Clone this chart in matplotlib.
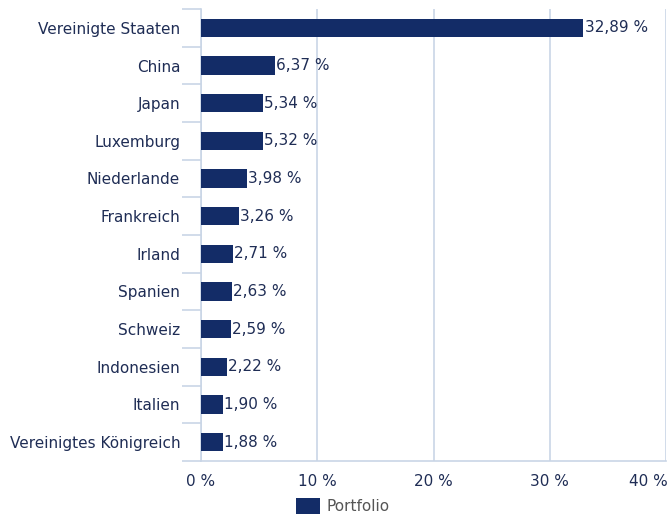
import matplotlib
matplotlib.use("Agg")
import matplotlib.pyplot as plt
import matplotlib.transforms as mtransforms
import numpy as np

countries = ["Vereinigte Staaten", "China", "Japan", "Luxemburg", "Niederlande",
             "Frankreich", "Irland", "Spanien", "Schweiz", "Indonesien", "Italien",
             "Vereinigtes Königreich"]
values = [32.89, 6.37, 5.34, 5.32, 3.98, 3.26, 2.71, 2.63, 2.59, 2.22, 1.90, 1.88]
xticks = [0, 10, 20, 30, 40]
series_name = "Portfolio"

bar_color = "#132c67"
text_color = "#1f2d55"
axis_color = "#c9d5e6"
fs = 11

plt.rcParams["font.family"] = ["DejaVu Sans"]
fig = plt.figure(figsize=(6.71, 5.18), dpi=100)
ax = fig.add_axes([201/671, 57/518, 465/671, 452/518])

y = np.arange(len(countries))
bars = ax.barh(y, values, height=0.48, color=bar_color, label=series_name, zorder=3)
for yi, v in zip(y, values):
    ax.text(v + 0.1, yi, f"{v:.2f} %".replace(".", ","), va="center", ha="left",
            fontsize=fs, color=text_color, zorder=4)

ax.set_xlim(0, 40)
ax.set_ylim(len(countries) - 0.5, -0.5)
ax.set_xticks(xticks)
ax.set_xticklabels([f"{t} %" for t in xticks])
ax.set_yticks(y)
ax.set_yticklabels(countries)
ax.set_yticks(np.arange(len(countries) + 1) - 0.5, minor=True)
ax.tick_params(axis="y", which="major", length=0, pad=15, labelsize=fs, labelcolor=text_color)
ax.tick_params(axis="y", which="minor", length=14, width=1.2, color=axis_color)
ax.tick_params(axis="x", which="major", length=0, pad=9, labelsize=fs, labelcolor=text_color)
ax.grid(axis="x", color=axis_color, linewidth=1.2, zorder=0)
ax.grid(axis="y", visible=False)
for s in ["top", "right"]:
    ax.spines[s].set_visible(False)
for s in ["left", "bottom"]:
    ax.spines[s].set_color(axis_color)
    ax.spines[s].set_linewidth(1.2)

# keep the last x tick label inside the figure
last = ax.get_xticklabels()[-1]
last.set_horizontalalignment("right")
last.set_transform(last.get_transform() + mtransforms.ScaledTranslation(2/100, 0, fig.dpi_scale_trans))

leg = fig.legend(handles=[bars], labels=[series_name], loc="center",
                 bbox_to_anchor=(343/671, 12/518), frameon=False, fontsize=fs,
                 handlelength=1.57, handleheight=1.18, handletextpad=0.45)
for t in leg.get_texts():
    t.set_color("#555555")

fig.savefig("out.png", dpi=100)
